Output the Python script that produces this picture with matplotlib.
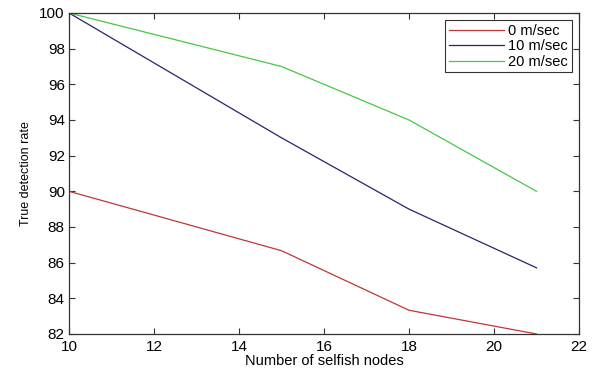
import matplotlib
matplotlib.use("Agg")
import matplotlib.pyplot as plt

# data
selfish_nodes = [10, 15, 18, 21]
rate_0 = [90, 86.67, 83.33, 82]
rate_10 = [100, 93, 89, 85.71]
rate_20 = [100, 97, 94, 90]
labels = ['0 m/sec', '10 m/sec', '20 m/sec']

plt.rcParams['font.family'] = ['Liberation Sans', 'DejaVu Sans']

fig = plt.figure(figsize=(5.96, 3.69), dpi=100)
ax = fig.add_axes([0.1158, 0.0949, 0.8557, 0.8699])

ax.plot(selfish_nodes, rate_0, color='#c03535', lw=0.9, label=labels[0])
ax.plot(selfish_nodes, rate_10, color='#25256e', lw=0.9, label=labels[1])
ax.plot(selfish_nodes, rate_20, color='#45c845', lw=0.9, label=labels[2])

ax.set_xlim(10, 22)
ax.set_ylim(82, 100)
ax.set_xticks(range(10, 23, 2))
ax.set_yticks(range(82, 101, 2))
ax.tick_params(direction='in', top=True, right=True, labelsize=11, length=4, width=0.8,
               colors='#333333', labelcolor='black')
ax.tick_params(axis='x', pad=4)
ax.tick_params(axis='y', pad=3)
for s in ax.spines.values():
    s.set_color('#333333')
    s.set_linewidth(0.9)

ax.set_xlabel('Number of selfish nodes', fontsize=10.5, labelpad=0)
ax.set_ylabel('True detection rate', fontsize=9, labelpad=5)

leg = ax.legend(loc='upper right', fontsize=10.5, frameon=True, fancybox=False,
                edgecolor='black', handlelength=3.8, borderaxespad=0.5,
                labelspacing=0.1, borderpad=0.25, handletextpad=0.3)
leg.get_frame().set_linewidth(0.8)

fig.savefig('out.png', dpi=100)
